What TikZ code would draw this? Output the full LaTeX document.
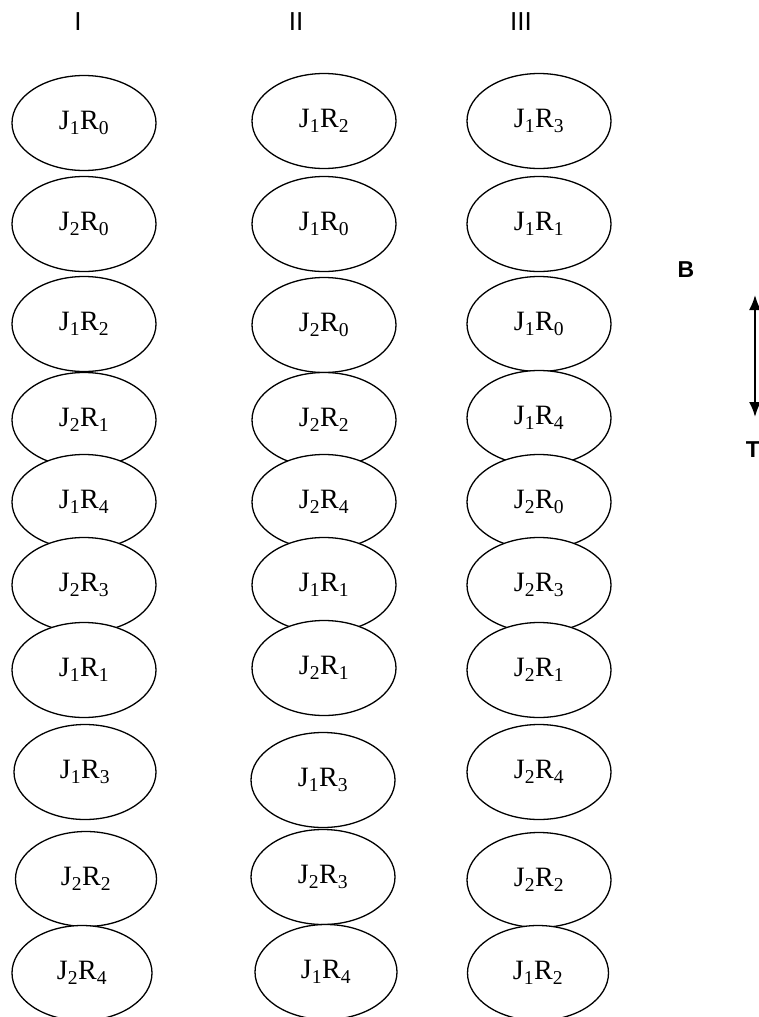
\documentclass[tikz,border=0pt]{standalone}
\usepackage{fontspec}
\setmainfont{Liberation Serif}
\newfontfamily\hdrfont{Liberation Sans}
\usetikzlibrary{shapes.geometric,arrows.meta}
\newcommand\jrlabel[2]{J\textsubscript{#1}R\textsubscript{#2}}
\tikzset{
  cell/.style={ellipse, draw=black, line width=1.3pt, fill=white, minimum width=144pt, minimum height=95pt, inner sep=0pt, font=\fontsize{28}{28}\selectfont},
  hdr/.style={font=\hdrfont\fontsize{26}{26}\selectfont, inner sep=0pt},
  axislbl/.style={font=\hdrfont\bfseries\fontsize{23}{23}\selectfont, inner sep=0pt},
}
\begin{document}
\begin{tikzpicture}[x=1pt,y=-1pt]
\useasboundingbox (0,0) rectangle (759,1017);
\node[hdr] (h1) at (78,22) {I};
\node[hdr] (h2) at (296,22) {II};
\node[hdr] (h3) at (521,22) {III};
% column I
\node[cell] (a1) at (84,123) {\jrlabel{1}{0}};
\node[cell] (a2) at (84,224) {\jrlabel{2}{0}};
\node[cell] (a3) at (84,324) {\jrlabel{1}{2}};
\node[cell] (a4) at (84,420) {\jrlabel{2}{1}};
\node[cell] (a5) at (84,502) {\jrlabel{1}{4}};
\node[cell] (a6) at (84,585) {\jrlabel{2}{3}};
\node[cell] (a7) at (84,670) {\jrlabel{1}{1}};
\node[cell, minimum width=142pt] (a8) at (85,772) {\jrlabel{1}{3}};
\node[cell, minimum width=141pt] (a9) at (86,879) {\jrlabel{2}{2}};
\node[cell, minimum width=140pt] (a10) at (82,973) {\jrlabel{2}{4}};
% column II
\node[cell] (b1) at (324,121) {\jrlabel{1}{2}};
\node[cell] (b2) at (324,224) {\jrlabel{1}{0}};
\node[cell] (b3) at (324,325) {\jrlabel{2}{0}};
\node[cell] (b4) at (324,420) {\jrlabel{2}{2}};
\node[cell] (b5) at (324,502) {\jrlabel{2}{4}};
\node[cell] (b6) at (324,585) {\jrlabel{1}{1}};
\node[cell] (b7) at (324,668) {\jrlabel{2}{1}};
\node[cell] (b8) at (323,780) {\jrlabel{1}{3}};
\node[cell] (b9) at (323,877) {\jrlabel{2}{3}};
\node[cell, minimum width=142pt] (b10) at (326,972) {\jrlabel{1}{4}};
% column III
\node[cell] (c1) at (539,121) {\jrlabel{1}{3}};
\node[cell] (c2) at (539,224) {\jrlabel{1}{1}};
\node[cell] (c3) at (539,324) {\jrlabel{1}{0}};
\node[cell] (c4) at (539,418) {\jrlabel{1}{4}};
\node[cell] (c5) at (539,502) {\jrlabel{2}{0}};
\node[cell] (c6) at (539,585) {\jrlabel{2}{3}};
\node[cell] (c7) at (539,670) {\jrlabel{2}{1}};
\node[cell] (c8) at (539,772) {\jrlabel{2}{4}};
\node[cell] (c9) at (539,880) {\jrlabel{2}{2}};
\node[cell, minimum width=141pt] (c10) at (538,973) {\jrlabel{1}{2}};
% axis arrow
\node[axislbl] (B) at (686,270) {B};
\node[axislbl] (T) at (753,450) {T};
\coordinate (top) at (755,295);
\coordinate (bot) at (755,417);
\draw[line width=2pt, {Latex[length=15pt,width=12pt]}-{Latex[length=15pt,width=12pt]}] (top) -- (bot);
\end{tikzpicture}
\end{document}
